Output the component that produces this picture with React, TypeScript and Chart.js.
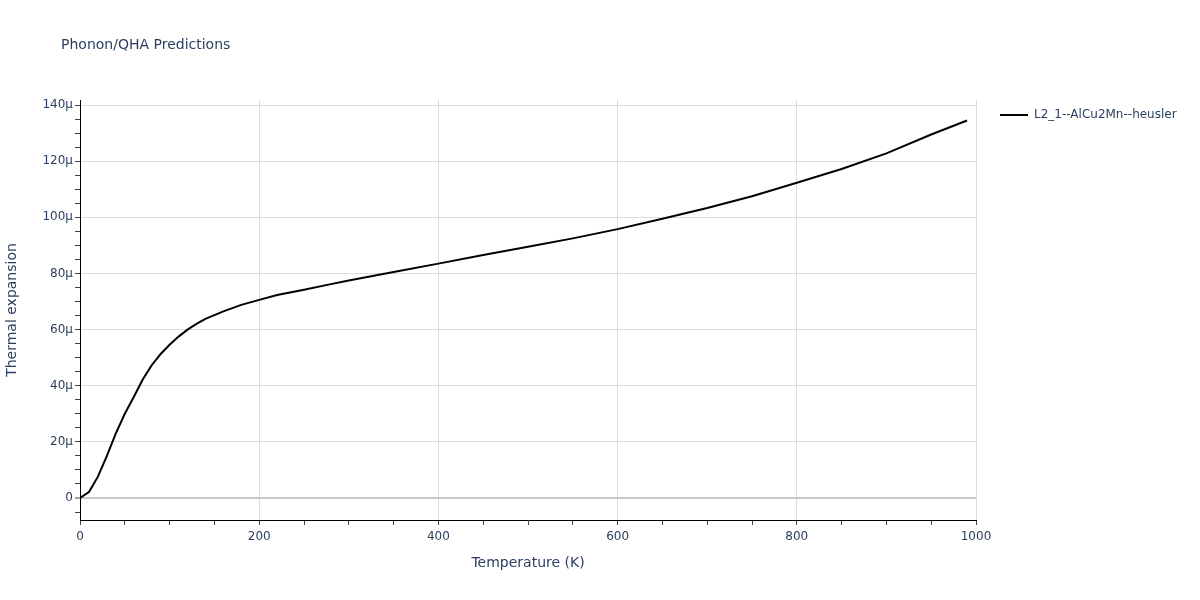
import React, { useEffect, useRef } from "react";
import { Chart, registerables } from "chart.js";

Chart.register(...registerables);

const chartTitle = "Phonon/QHA Predictions";
const seriesName = "L2_1--AlCu2Mn--heusler";
const xAxisTitle = "Temperature (K)";
const yAxisTitle = "Thermal expansion";

// Temperature (K)
const temperatures = [
  0, 10, 20, 30, 40, 50, 60, 70, 80, 90, 100, 110, 120, 130, 140, 160, 180, 200,
  220, 250, 280, 300, 350, 400, 450, 500, 550, 600, 650, 700, 750, 800, 850, 900,
  950, 990,
];
// Thermal expansion in micro (1e-6 / K)
const expansionMicro = [
  0, 2.1, 7.6, 15, 23, 30, 36, 42.2, 47.3, 51.3, 54.6, 57.5, 60, 62, 63.8, 66.5,
  68.8, 70.6, 72.3, 74.2, 76.2, 77.5, 80.5, 83.5, 86.6, 89.5, 92.5, 95.8, 99.5,
  103.3, 107.5, 112.3, 117.2, 122.8, 129.5, 134.5,
];

const xMin = 0;
const xMax = 1000;
const yMin = -7.84;
const yMax = 141.8;

const FONT = '"DejaVu Sans", Verdana, sans-serif';
const TEXT_COLOR = "#2a3f5f";

export default function App() {
  const canvasRef = useRef<HTMLCanvasElement | null>(null);

  useEffect(() => {
    if (!canvasRef.current) return;
    const overlay = {
      id: "overlay",
      afterDraw(chart: any) {
        const ctx = chart.ctx;
        ctx.save();
        ctx.fillStyle = TEXT_COLOR;
        ctx.font = `14px ${FONT}`;
        ctx.textBaseline = "middle";
        ctx.textAlign = "left";
        ctx.fillText(chartTitle, 61, 45);
        // legend
        ctx.strokeStyle = "#000";
        ctx.lineWidth = 2;
        ctx.beginPath();
        ctx.moveTo(1000, 115);
        ctx.lineTo(1028, 115);
        ctx.stroke();
        ctx.font = `12px ${FONT}`;
        ctx.fillText(seriesName, 1034, 115);
        ctx.restore();
      },
    };

    const chart = new Chart(canvasRef.current, {
      type: "line",
      data: {
        datasets: [
          {
            label: seriesName,
            data: temperatures.map((t, i) => ({ x: t, y: expansionMicro[i] })),
            borderColor: "#000000",
            backgroundColor: "#000000",
            borderWidth: 2,
            pointRadius: 0,
            tension: 0,
            fill: false,
          },
        ],
      },
      options: {
        responsive: false,
        animation: false,
        layout: { padding: { top: 100, right: 224, left: 0, bottom: 0 } },
        plugins: {
          legend: { display: false },
          title: { display: false },
          tooltip: { enabled: false },
        },
        scales: {
          x: {
            type: "linear",
            min: xMin,
            max: xMax,
            afterFit(scale: any) {
              scale.height = 80;
            },
            ticks: {
              stepSize: 50,
              includeBounds: false,
              autoSkip: false,
              maxRotation: 0,
              padding: 5,
              color: TEXT_COLOR,
              font: { family: FONT, size: 12 },
              callback: (v: any) => (Number(v) % 200 === 0 ? String(v) : ""),
            },
            grid: {
              color: (c: any) =>
                c.tick && c.tick.value % 200 === 0 && c.tick.value !== 0
                  ? "#dcdcdc"
                  : "rgba(0,0,0,0)",
              lineWidth: 1,
              tickColor: "#444",
              tickLength: 5,
              tickWidth: 1,
            },
            border: { display: true, color: "#000", width: 1 },
            title: {
              display: true,
              text: xAxisTitle,
              color: TEXT_COLOR,
              font: { family: FONT, size: 14 },
              padding: { top: 0, bottom: 28 },
            },
          },
          y: {
            type: "linear",
            min: yMin,
            max: yMax,
            afterFit(scale: any) {
              scale.width = 80;
            },
            ticks: {
              stepSize: 5,
              includeBounds: false,
              autoSkip: false,
              padding: 2,
              color: TEXT_COLOR,
              font: { family: FONT, size: 12 },
              callback: (v: any) => {
                const n = Math.round(Number(v));
                if (n % 20 !== 0) return "";
                return n === 0 ? "0" : `${n}μ`;
              },
            },
            grid: {
              color: (c: any) => {
                const v = c.tick ? Math.round(c.tick.value) : 1;
                if (v === 0) return "#c8c8c8";
                return v % 20 === 0 ? "#dcdcdc" : "rgba(0,0,0,0)";
              },
              lineWidth: (c: any) =>
                c.tick && Math.round(c.tick.value) === 0 ? 2 : 1,
              tickColor: "#444",
              tickLength: 5,
              tickWidth: 1,
            },
            border: { display: true, color: "#000", width: 1 },
            title: {
              display: true,
              text: yAxisTitle,
              color: TEXT_COLOR,
              font: { family: FONT, size: 14 },
              padding: { top: 4, bottom: 0 },
            },
          },
        },
      },
      plugins: [overlay],
    });
    return () => chart.destroy();
  }, []);

  return (
    <div
      style={{
        position: "absolute",
        left: 0,
        top: 0,
        width: 1200,
        height: 600,
        background: "#fff",
      }}
    >
      <canvas
        ref={canvasRef}
        width={1200}
        height={600}
        style={{ display: "block", width: 1200, height: 600 }}
      />
    </div>
  );
}
